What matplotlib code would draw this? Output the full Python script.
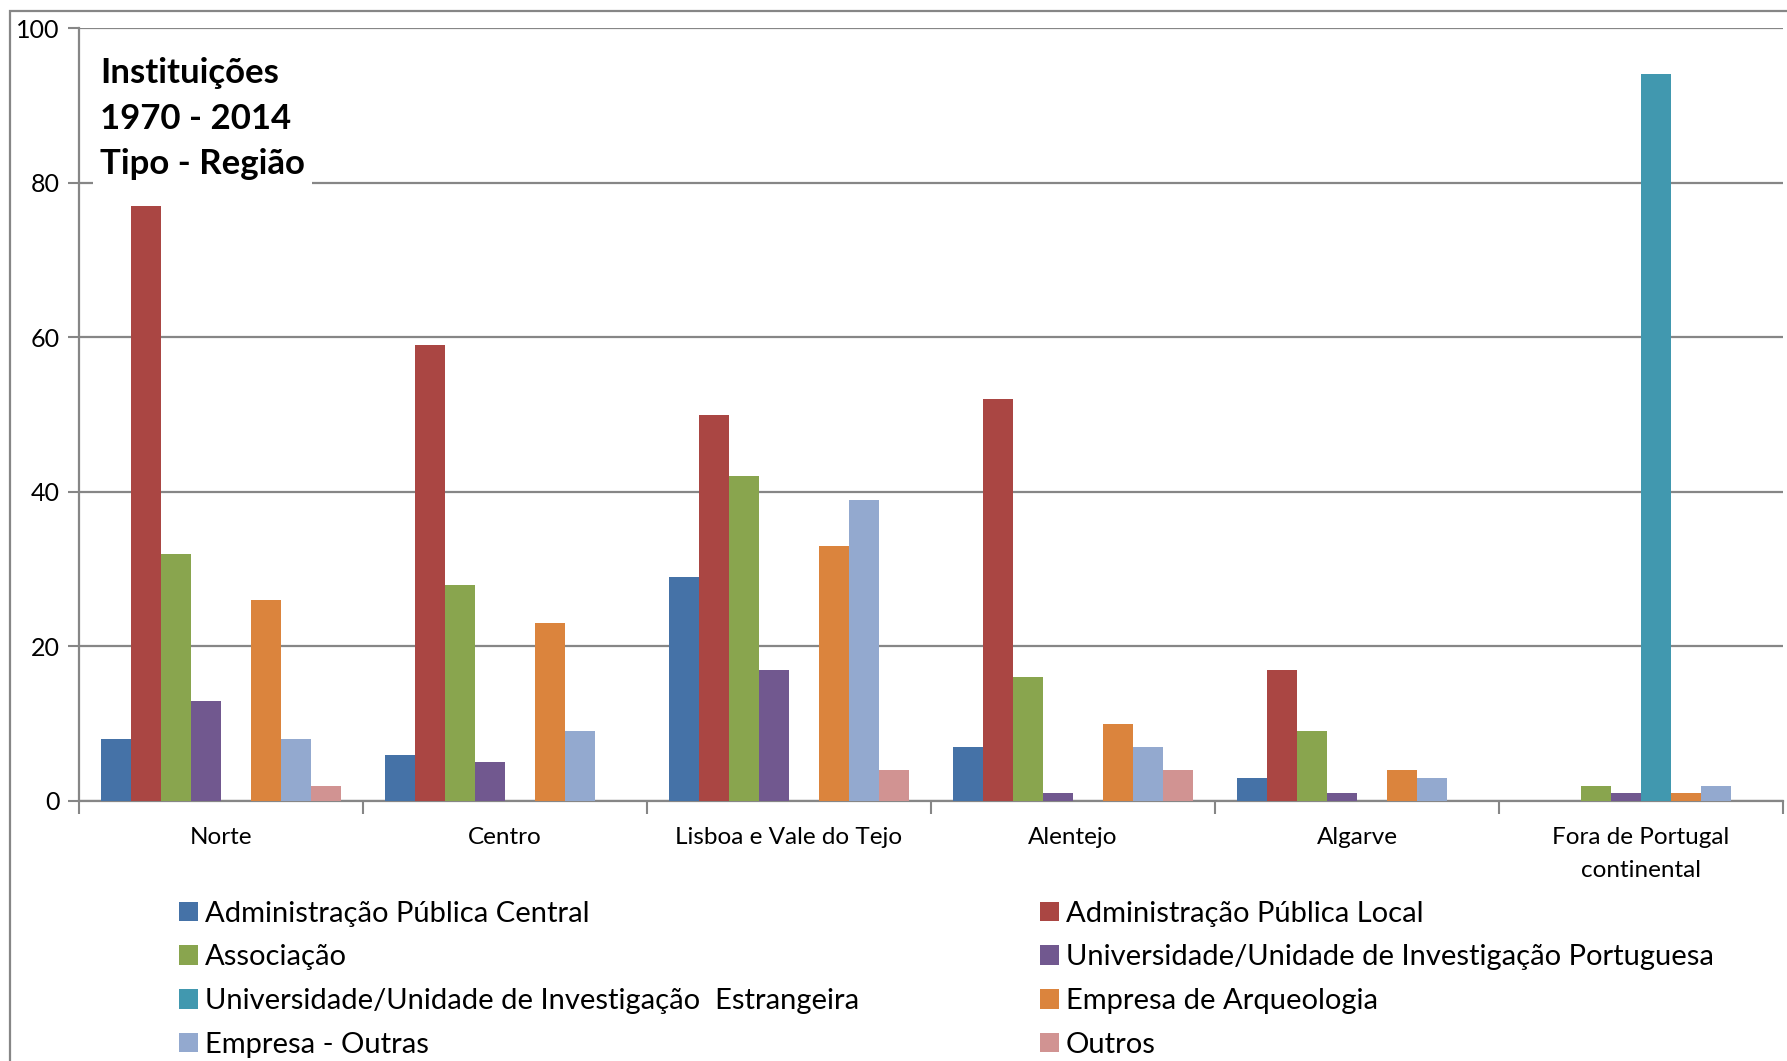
import numpy as np
import matplotlib.pyplot as plt
from matplotlib.patches import Rectangle

plt.rcParams['font.family'] = ['Lato', 'DejaVu Sans']

# regions (x categories)
regioes = ['Norte', 'Centro', 'Lisboa e Vale do Tejo', 'Alentejo', 'Algarve',
           'Fora de Portugal\ncontinental']

# series (institution types)
series_nomes = [
    'Administração Pública Central',
    'Administração Pública Local',
    'Associação',
    'Universidade/Unidade de Investigação Portuguesa',
    'Universidade/Unidade de Investigação  Estrangeira',
    'Empresa de Arqueologia',
    'Empresa - Outras',
    'Outros',
]
adm_central = [8, 6, 29, 7, 3, 0]
adm_local = [77, 59, 50, 52, 17, 0]
associacao = [32, 28, 42, 16, 9, 2]
univ_pt = [13, 5, 17, 1, 1, 1]
univ_estr = [0, 0, 0, 0, 0, 94]
emp_arq = [26, 23, 33, 10, 4, 1]
emp_outras = [8, 9, 39, 7, 3, 2]
outros = [2, 0, 4, 4, 0, 0]
valores = [adm_central, adm_local, associacao, univ_pt, univ_estr, emp_arq, emp_outras, outros]

cores = ['#4572A7', '#AA4643', '#89A54E', '#71588F', '#4198AF', '#DB843D', '#93A9CF', '#D19392']

W, H = 1787, 1061
fig = plt.figure(figsize=(W / 100, H / 100), dpi=100)
ax = fig.add_axes([79 / W, 1 - 801 / H, (1783 - 79) / W, (801 - 28) / H])

x = np.arange(len(regioes))
w = 1 / 9.5
barras = []
for i, (vals, cor) in enumerate(zip(valores, cores)):
    b = ax.bar(x + (i - 3.5) * w, vals, w, color=cor, linewidth=0, zorder=3)
    barras.append(b)

ax.set_xlim(-0.5, len(regioes) - 0.5)
ax.set_ylim(0, 100)
ax.set_yticks([0, 20, 40, 60, 80, 100])
ax.grid(axis='y', color='#868686', linewidth=1.6, zorder=0)
ax.tick_params(axis='y', length=8, width=1.5, color='#868686', pad=6, labelsize=18)

ax.set_xticks(x)
ax.set_xticklabels(regioes, fontsize=17.5, linespacing=1.75)
ax.tick_params(axis='x', which='major', length=0, pad=18.5)
ax.set_xticks(np.arange(-0.5, len(regioes)), minor=True)
ax.tick_params(axis='x', which='minor', length=9, width=1.5, color='#868686')

for s in ['top', 'right']:
    ax.spines[s].set_visible(False)
for s in ['left', 'bottom']:
    ax.spines[s].set_color('#868686')
    ax.spines[s].set_linewidth(1.6)

# title box in the upper left of the plot area
ax.text(100 / W, 1 - 57 / H, 'Instituições\n1970 - 2014\nTipo - Região',
        transform=fig.transFigure, fontsize=25, fontweight='bold', va='top', ha='left',
        linespacing=1.52, zorder=5,
        bbox=dict(facecolor='white', edgecolor='none', pad=5))

# chart area border (left and top visible)
fig.add_artist(Rectangle((10 / W, -0.1), 1.2, 1 - 11 / H + 0.1, transform=fig.transFigure,
                         fill=False, edgecolor='#868686', linewidth=1.6))

ordem = [0, 2, 4, 6, 1, 3, 5, 7]
fig.legend([barras[i] for i in ordem], [series_nomes[i] for i in ordem],
           loc='upper left', bbox_to_anchor=(164 / W, 1 - 886 / H), ncol=2,
           frameon=False, fontsize=21, handlelength=0.65, handleheight=0.65,
           handletextpad=0.25, labelspacing=0.61, columnspacing=6.2, borderpad=0)

fig.savefig('out.png', dpi=100)
